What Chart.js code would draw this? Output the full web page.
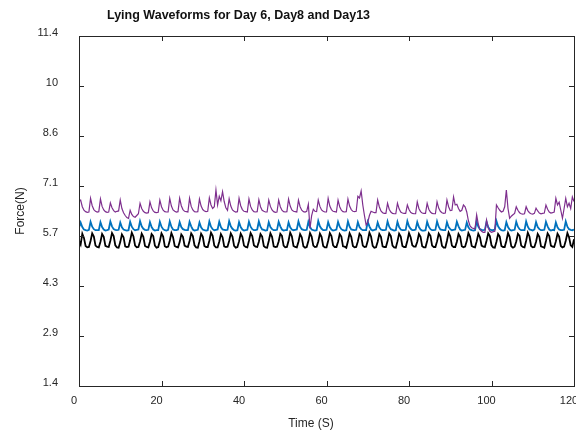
<!DOCTYPE html>
<html>
<head>
<meta charset="utf-8">
<script src="https://cdn.jsdelivr.net/npm/chart.js@4.4.1/dist/chart.umd.min.js"></script>
<style>
  body { margin: 0; background: #fff; }
  canvas { display: block; }
</style>
</head>
<body>
<canvas id="myChart" width="576" height="435"></canvas>
<script>
// samples every 0.4 s, 0 - 120 s
const sampleStep = 0.4;

const yTicks = [1.4286, 2.8571, 4.2857, 5.7143, 7.1429, 8.5714, 10.0, 11.4286];
const yTickLabels = ['1.4', '2.9', '4.3', '5.7', '7.1', '8.6', '10', '11.4'];
const xTicks = [0, 20, 40, 60, 80, 100, 120];

// Day 13
const day13 = [
  6.70, 6.74, 6.55, 6.45, 6.41, 6.39,
  6.40, 6.79, 6.58, 6.47, 6.42, 6.40,
  6.41, 6.77, 6.56, 6.46, 6.41, 6.39,
  6.40, 6.66, 6.52, 6.44, 6.40, 6.42,
  6.43, 6.74, 6.50, 6.38, 6.30, 6.24,
  6.22, 6.45, 6.33, 6.27, 6.25, 6.30,
  6.35, 6.65, 6.50, 6.42, 6.38, 6.37,
  6.38, 6.69, 6.52, 6.43, 6.39, 6.38,
  6.39, 6.74, 6.55, 6.45, 6.41, 6.40,
  6.40, 6.79, 6.57, 6.46, 6.42, 6.40,
  6.41, 6.79, 6.58, 6.47, 6.42, 6.41,
  6.40, 6.79, 6.56, 6.46, 6.41, 6.40,
  6.41, 6.77, 6.57, 6.47, 6.43, 6.41,
  6.42, 6.80, 6.60, 6.50, 6.55, 7.03,
  6.60, 6.85, 6.72, 6.98, 6.70, 6.52,
  6.45, 6.78, 6.57, 6.46, 6.42, 6.40,
  6.41, 6.79, 6.58, 6.47, 6.42, 6.41,
  6.40, 6.77, 6.56, 6.46, 6.41, 6.40,
  6.41, 6.75, 6.55, 6.45, 6.42, 6.40,
  6.40, 6.74, 6.56, 6.46, 6.41, 6.39,
  6.40, 6.74, 6.55, 6.45, 6.41, 6.40,
  6.41, 6.77, 6.57, 6.46, 6.42, 6.41,
  6.40, 6.74, 6.55, 6.45, 6.41, 6.40,
  6.42, 6.62, 5.93, 6.30, 6.48, 6.42,
  6.41, 6.74, 6.56, 6.46, 6.42, 6.40,
  6.40, 6.79, 6.57, 6.47, 6.42, 6.41,
  6.40, 6.74, 6.55, 6.45, 6.41, 6.40,
  6.41, 6.77, 6.57, 6.47, 6.42, 6.41,
  6.42, 6.85, 6.80, 7.00, 6.60, 6.30,
  6.03, 6.10, 6.30, 6.42, 6.40, 6.38,
  6.38, 6.74, 6.55, 6.43, 6.38, 6.36,
  6.36, 6.65, 6.48, 6.40, 6.36, 6.35,
  6.35, 6.65, 6.49, 6.40, 6.37, 6.36,
  6.36, 6.60, 6.47, 6.39, 6.36, 6.35,
  6.35, 6.69, 6.50, 6.41, 6.37, 6.36,
  6.36, 6.65, 6.48, 6.40, 6.36, 6.35,
  6.35, 6.69, 6.51, 6.42, 6.38, 6.36,
  6.37, 6.74, 6.55, 6.44, 6.45, 6.83,
  6.60, 6.62, 6.50, 6.42, 6.45, 6.60,
  6.55, 6.40, 6.15, 6.00, 5.95, 5.93,
  5.92, 6.32, 6.05, 5.90, 5.85, 5.82,
  5.82, 6.17, 5.95, 5.85, 5.82, 5.84,
  5.85, 6.60, 6.52, 6.45, 6.40, 6.42,
  6.55, 7.03, 6.50, 6.22, 6.28, 6.32,
  6.36, 6.55, 6.45, 6.38, 6.35, 6.34,
  6.35, 6.55, 6.44, 6.38, 6.35, 6.34,
  6.36, 6.51, 6.43, 6.37, 6.35, 6.36,
  6.37, 6.60, 6.48, 6.40, 6.37, 6.38,
  6.40, 6.79, 6.60, 6.68, 6.45, 6.22,
  6.50, 6.79, 6.55, 6.65, 6.50, 6.83,
  6.70
];

// Day 8
const day8 = [
  5.95, 6.10, 5.97, 5.90, 5.88, 5.87,
  5.89, 6.12, 5.98, 5.91, 5.88, 5.88,
  5.88, 6.11, 5.97, 5.90, 5.87, 5.88,
  5.90, 6.13, 5.99, 5.91, 5.89, 5.88,
  5.89, 6.10, 5.96, 5.90, 5.88, 5.87,
  5.88, 6.12, 5.98, 5.91, 5.88, 5.89,
  5.90, 6.14, 5.99, 5.92, 5.89, 5.88,
  5.89, 6.11, 5.97, 5.90, 5.87, 5.88,
  5.88, 6.12, 5.98, 5.91, 5.88, 5.87,
  5.89, 6.13, 5.98, 5.90, 5.88, 5.88,
  5.90, 6.11, 5.97, 5.91, 5.89, 5.88,
  5.88, 6.12, 5.99, 5.90, 5.87, 5.88,
  5.89, 6.10, 5.96, 5.90, 5.88, 5.87,
  5.88, 6.13, 5.98, 5.91, 5.88, 5.89,
  5.90, 6.12, 5.97, 5.90, 5.89, 5.88,
  5.89, 6.14, 5.99, 5.92, 5.88, 5.87,
  5.88, 6.11, 5.97, 5.90, 5.87, 5.88,
  5.89, 6.12, 5.98, 5.91, 5.88, 5.88,
  5.90, 6.13, 5.98, 5.90, 5.89, 5.87,
  5.88, 6.11, 5.97, 5.91, 5.88, 5.88,
  5.89, 6.12, 5.99, 5.90, 5.87, 5.88,
  5.88, 6.10, 5.96, 5.90, 5.88, 5.89,
  5.90, 6.13, 5.98, 5.91, 5.89, 5.88,
  5.89, 6.12, 5.97, 5.90, 5.88, 5.87,
  5.88, 6.14, 5.99, 5.92, 5.88, 5.88,
  5.89, 6.11, 5.97, 5.90, 5.87, 5.88,
  5.90, 6.12, 5.98, 5.91, 5.88, 5.87,
  5.88, 6.13, 5.98, 5.90, 5.89, 5.88,
  5.89, 6.11, 5.97, 5.91, 5.88, 5.88,
  5.88, 6.12, 5.99, 5.90, 5.87, 5.89,
  5.90, 6.10, 5.96, 5.90, 5.88, 5.88,
  5.89, 6.13, 5.98, 5.91, 5.89, 5.87,
  5.88, 6.12, 5.97, 5.90, 5.88, 5.88,
  5.89, 6.14, 5.99, 5.92, 5.88, 5.88,
  5.90, 6.11, 5.97, 5.90, 5.87, 5.87,
  5.88, 6.12, 5.98, 5.91, 5.88, 5.88,
  5.89, 6.13, 5.98, 5.90, 5.89, 5.88,
  5.88, 6.11, 5.97, 5.91, 5.88, 5.89,
  5.90, 6.12, 5.99, 5.90, 5.87, 5.88,
  5.89, 6.10, 5.96, 5.90, 5.88, 5.87,
  5.88, 6.13, 5.98, 5.91, 5.89, 5.88,
  5.89, 6.12, 5.97, 5.90, 5.88, 5.88,
  5.90, 6.14, 5.99, 5.92, 5.88, 5.87,
  5.88, 6.11, 5.97, 5.90, 5.87, 5.88,
  5.89, 6.12, 5.98, 5.91, 5.88, 5.88,
  5.88, 6.13, 5.98, 5.90, 5.89, 5.87,
  5.90, 6.11, 5.97, 5.91, 5.88, 5.88,
  5.89, 6.12, 5.99, 5.90, 5.87, 5.89,
  5.88, 6.10, 5.96, 5.90, 5.88, 5.88,
  5.89, 6.13, 5.98, 5.91, 5.89, 5.88,
  5.90
];

// Day 6
const day6 = [
  5.58, 5.47, 5.78, 5.66, 5.43, 5.39,
  5.40, 5.57, 5.79, 5.70, 5.44, 5.40,
  5.39, 5.55, 5.77, 5.69, 5.43, 5.41,
  5.40, 5.58, 5.80, 5.71, 5.45, 5.39,
  5.38, 5.54, 5.76, 5.68, 5.42, 5.40,
  5.41, 5.59, 5.81, 5.70, 5.44, 5.39,
  5.40, 5.56, 5.78, 5.69, 5.43, 5.40,
  5.39, 5.55, 5.77, 5.71, 5.44, 5.38,
  5.40, 5.57, 5.79, 5.70, 5.42, 5.39,
  5.41, 5.58, 5.80, 5.68, 5.43, 5.40,
  5.39, 5.54, 5.76, 5.69, 5.44, 5.41,
  5.40, 5.57, 5.79, 5.71, 5.45, 5.39,
  5.38, 5.56, 5.78, 5.70, 5.43, 5.40,
  5.40, 5.58, 5.81, 5.72, 5.44, 5.39,
  5.39, 5.55, 5.77, 5.68, 5.42, 5.40,
  5.41, 5.57, 5.79, 5.70, 5.43, 5.38,
  5.40, 5.56, 5.78, 5.69, 5.44, 5.40,
  5.39, 5.58, 5.80, 5.71, 5.45, 5.41,
  5.40, 5.55, 5.77, 5.70, 5.43, 5.39,
  5.38, 5.57, 5.79, 5.69, 5.42, 5.40,
  5.41, 5.56, 5.78, 5.72, 5.44, 5.39,
  5.40, 5.58, 5.81, 5.71, 5.43, 5.40,
  5.39, 5.55, 5.77, 5.68, 5.42, 5.38,
  5.40, 5.57, 5.80, 5.70, 5.44, 5.40,
  5.41, 5.56, 5.78, 5.69, 5.43, 5.39,
  5.39, 5.58, 5.80, 5.71, 5.45, 5.40,
  5.40, 5.55, 5.77, 5.70, 5.42, 5.41,
  5.38, 5.57, 5.79, 5.69, 5.43, 5.39,
  5.40, 5.56, 5.78, 5.72, 5.44, 5.40,
  5.41, 5.58, 5.81, 5.70, 5.43, 5.38,
  5.39, 5.55, 5.77, 5.69, 5.42, 5.40,
  5.40, 5.57, 5.79, 5.71, 5.44, 5.39,
  5.38, 5.56, 5.78, 5.70, 5.43, 5.40,
  5.40, 5.58, 5.80, 5.68, 5.45, 5.41,
  5.41, 5.55, 5.77, 5.69, 5.42, 5.39,
  5.39, 5.57, 5.79, 5.72, 5.44, 5.40,
  5.40, 5.56, 5.78, 5.70, 5.43, 5.38,
  5.38, 5.58, 5.81, 5.71, 5.44, 5.40,
  5.40, 5.55, 5.77, 5.69, 5.42, 5.39,
  5.41, 5.57, 5.80, 5.70, 5.43, 5.40,
  5.39, 5.56, 5.78, 5.68, 5.44, 5.41,
  5.40, 5.58, 5.79, 5.71, 5.45, 5.39,
  5.38, 5.55, 5.77, 5.70, 5.43, 5.40,
  5.40, 5.57, 5.80, 5.69, 5.42, 5.38,
  5.41, 5.56, 5.78, 5.72, 5.44, 5.40,
  5.39, 5.58, 5.81, 5.70, 5.43, 5.39,
  5.40, 5.55, 5.77, 5.69, 5.42, 5.40,
  5.38, 5.57, 5.79, 5.71, 5.44, 5.41,
  5.40, 5.56, 5.78, 5.70, 5.43, 5.39,
  5.41, 5.58, 5.80, 5.68, 5.45, 5.40,
  5.62
];

const FONT = "'Liberation Sans', Arial, sans-serif";
const TEXT = '#262626';

function toPoints(values) {
    return values.map((v, i) => ({ x: i * sampleStep, y: v }));
}

// box around the plot with inward ticks on all four sides
const frameTicks = {
    id: 'frameTicks',
    afterDraw(chart) {
        const { ctx, chartArea: a, scales } = chart;
        const len = 5;
        ctx.save();
        ctx.strokeStyle = TEXT;
        ctx.lineWidth = 1;
        ctx.beginPath();
        xTicks.forEach(v => {
            const x = Math.round(scales.x.getPixelForValue(v)) + 0.5;
            ctx.moveTo(x, a.bottom); ctx.lineTo(x, a.bottom - len);
            ctx.moveTo(x, a.top); ctx.lineTo(x, a.top + len);
        });
        yTicks.forEach(v => {
            const y = Math.round(scales.y.getPixelForValue(v)) + 0.5;
            ctx.moveTo(a.left, y); ctx.lineTo(a.left + len, y);
            ctx.moveTo(a.right, y); ctx.lineTo(a.right - len, y);
        });
        ctx.stroke();
        ctx.strokeRect(Math.round(a.left) + 0.5, Math.round(a.top) + 0.5,
            Math.round(a.right - a.left), Math.round(a.bottom - a.top));
        ctx.restore();
    }
};

// title and axis names
const labels = {
    id: 'labels',
    afterDraw(chart) {
        const { ctx, chartArea: a } = chart;
        ctx.save();
        ctx.fillStyle = '#111';
        ctx.font = 'bold 12.5px ' + FONT;
        ctx.textBaseline = 'middle';
        ctx.textAlign = 'left';
        ctx.fillText('Lying Waveforms for Day 6, Day8 and Day13', 107, 16);

        ctx.fillStyle = TEXT;
        ctx.font = '12px ' + FONT;
        ctx.textAlign = 'center';
        ctx.fillText('Time (S)', 311, 424);

        ctx.translate(21, (a.top + a.bottom) / 2);
        ctx.rotate(-Math.PI / 2);
        ctx.fillText('Force(N)', 0, 0);
        ctx.restore();
    }
};

const ctx = document.getElementById('myChart');
const myChart = new Chart(ctx, {
    type: 'line',
    data: {
        datasets: [{
            label: 'Day13',
            data: toPoints(day13),
            borderColor: 'rgb(126, 47, 142)',
            borderWidth: 1.2
        }, {
            label: 'Day8',
            data: toPoints(day8),
            borderColor: 'rgb(0, 114, 189)',
            borderWidth: 1.8
        }, {
            label: 'Day 6',
            data: toPoints(day6),
            borderColor: '#000000',
            borderWidth: 1.8
        }]
    },
    options: {
        responsive: false,
        animation: false,
        devicePixelRatio: 1,
        elements: { point: { radius: 0 }, line: { tension: 0 } },
        layout: { padding: { top: 36, right: 2, left: 0, bottom: 0 } },
        plugins: {
            legend: { display: false },
            tooltip: { enabled: false },
            title: { display: false }
        },
        scales: {
            x: {
                type: 'linear',
                min: 0,
                max: 120,
                grid: { display: false, drawTicks: false },
                border: { display: false },
                afterBuildTicks: axis => { axis.ticks = xTicks.map(v => ({ value: v })); },
                afterFit: axis => {
                    axis.height = 49;
                    axis.paddingLeft = 0;
                    axis.paddingRight = 0;
                },
                ticks: {
                    font: { family: FONT, size: 11 },
                    color: TEXT,
                    padding: 8,
                    labelOffset: -5,
                    maxRotation: 0
                }
            },
            y: {
                min: yTicks[0],
                max: yTicks[yTicks.length - 1],
                grid: { display: false, drawTicks: false },
                border: { display: false },
                afterBuildTicks: axis => { axis.ticks = yTicks.map(v => ({ value: v })); },
                afterFit: axis => {
                    axis.width = 79;
                    axis.paddingTop = 0;
                    axis.paddingBottom = 0;
                },
                ticks: {
                    font: { family: FONT, size: 11 },
                    color: TEXT,
                    padding: 21,
                    labelOffset: -3,
                    callback: (value, index) => yTickLabels[index]
                }
            }
        }
    },
    plugins: [frameTicks, labels]
});
</script>
</body>
</html>
